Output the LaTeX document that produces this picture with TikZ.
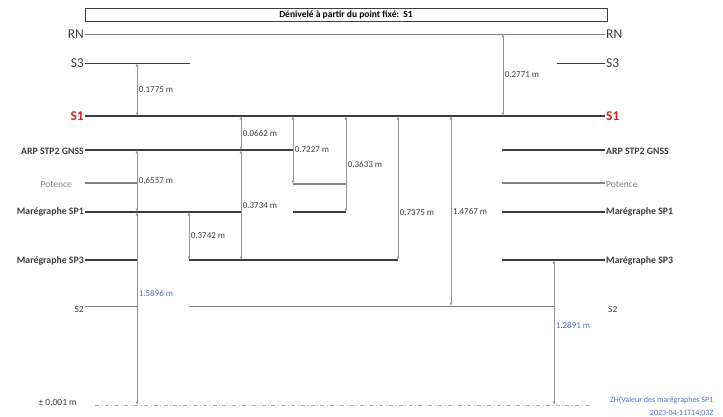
\documentclass[tikz,border=0pt]{standalone}
\usepackage{fontspec}
\setmainfont{Carlito}
\usetikzlibrary{arrows.meta}
\definecolor{Ldark}{RGB}{60,60,60}
\definecolor{Lgray}{RGB}{130,130,130}
\definecolor{Dgray}{RGB}{150,150,150}
\definecolor{Zblue}{RGB}{80,115,190}
\definecolor{Sred}{RGB}{220,35,35}

\begin{document}
\begin{tikzpicture}[x=1pt,y=-1pt,
  lvl/.style={draw=Ldark,line width=1.6pt},
  lvlthin/.style={draw=Ldark,line width=0.8pt},
  lvlgray/.style={draw=Lgray,line width=1.4pt},
  dimarrow/.style={draw=Dgray,line width=0.7pt,{Latex[length=3.5pt,width=3pt]}-{Latex[length=3.5pt,width=3pt]}},
  dimlabel/.style={right,inner sep=1.5pt,text=Ldark,font=\fontsize{9}{10}\selectfont},
  bluelabel/.style={dimlabel,text=Zblue},
  lname/.style={left,inner sep=1pt,text=Ldark,font=\fontsize{9.5}{11}\selectfont},
  rname/.style={right,inner sep=1pt,text=Ldark,font=\fontsize{9.5}{11}\selectfont},
  boldname/.style={font=\bfseries\fontsize{9.8}{11}\selectfont},
  bigname/.style={font=\fontsize{13.5}{15}\selectfont}]
\useasboundingbox (0,0) rectangle (723,416);

% levels
\coordinate (RN) at (85,34);
\coordinate (S3) at (85,63);
\coordinate (S1) at (85,116);
\coordinate (ARP) at (85,150);
\coordinate (POT) at (85,183);
\coordinate (POTm) at (85,184);
\coordinate (SP1) at (85,212);
\coordinate (SP3) at (85,260);
\coordinate (S2) at (85,306);
\coordinate (ZH) at (85,405);
% columns
\coordinate (cA) at (137,0);
\coordinate (cB) at (189,0);
\coordinate (cC) at (241,0);
\coordinate (cD) at (293,0);
\coordinate (cE) at (346,0);
\coordinate (cF) at (398,0);
\coordinate (cG) at (451,0);
\coordinate (cH) at (503,0);
\coordinate (cI) at (554,0);
\coordinate (rgt) at (605,0);

% title
\node[draw=Ldark,line width=0.6pt,minimum width=522pt,minimum height=13pt,inner sep=0pt,
  font=\bfseries\fontsize{9.5}{10}\selectfont] (title) at (346,14.5) {Dénivelé à partir du point fixé:\ \ S1};

% level lines
\draw[lvlthin,draw=Lgray] (RN) -- (RN -| rgt);
\draw[lvlthin] (S3) -- (S3 -| 190,0);
\draw[lvlthin] (S3 -| 557,0) -- (S3 -| rgt);
\draw[lvl] (S1) -- (S1 -| rgt);
\draw[lvl] (ARP) -- (ARP -| cD);
\draw[lvl] (ARP -| 502,0) -- (ARP -| rgt);
\draw[lvlgray] (POT) -- (POT -| cA);
\draw[lvlgray] (POTm -| cD) -- (POTm -| cE);
\draw[lvlgray] (POT -| 502,0) -- (POT -| rgt);
\draw[lvl] (SP1) -- (SP1 -| cC);
\draw[lvl] (SP1 -| cD) -- (SP1 -| cE);
\draw[lvl] (SP1 -| 502,0) -- (SP1 -| rgt);
\draw[lvl] (SP3) -- (SP3 -| cA);
\draw[lvl] (SP3 -| cB) -- (SP3 -| cF);
\draw[lvl] (SP3 -| 502,0) -- (SP3 -| rgt);
\draw[lvlgray,line width=1pt] (S2) -- (S2 -| cA);
\draw[lvlgray,line width=1pt] (S2 -| cB) -- (S2 -| cI);
\draw[draw=Zblue!55,line width=0.6pt,dash pattern=on 4pt off 2.5pt on 0.8pt off 2.5pt] (ZH -| 95,0) -- (ZH -| 590,0);

% names on the left
\node[lname,bigname] (nRNl) at (RN) {RN};
\node[lname,bigname] (nS3l) at (S3) {S3};
\node[lname,text=Sred,font=\bfseries\fontsize{13.5}{15}\selectfont] (nS1l) at (S1) {S1};
\node[lname,boldname] (nARPl) at ([yshift=-1]ARP) {ARP STP2 GNSS};
\node[lname,xshift=-12pt,text=Lgray] (nPOTl) at ([yshift=-1]POT) {Potence};
\node[lname,boldname] (nSP1l) at (SP1) {Marégraphe SP1};
\node[lname,boldname] (nSP3l) at ([yshift=-1]SP3) {Marégraphe SP3};
\node[lname] (nS2l) at ([yshift=-3]S2) {S2};
\node[lname,xshift=-7pt] (nZHl) at ([yshift=2]ZH) {± 0,001 m};

% names on the right
\node[rname,bigname] (nRNr) at (RN -| rgt) {RN};
\node[rname,bigname] (nS3r) at (S3 -| rgt) {S3};
\node[rname,text=Sred,font=\bfseries\fontsize{13.5}{15}\selectfont] (nS1r) at (S1 -| rgt) {S1};
\node[rname,boldname] (nARPr) at ([yshift=-1]ARP -| rgt) {ARP STP2 GNSS};
\node[rname,text=Lgray] (nPOTr) at ([yshift=-1]POT -| rgt) {Potence};
\node[rname,boldname] (nSP1r) at (SP1 -| rgt) {Marégraphe SP1};
\node[rname,boldname] (nSP3r) at ([yshift=-1]SP3 -| rgt) {Marégraphe SP3};
\node[rname,xshift=2pt] (nS2r) at ([yshift=-3]S2 -| rgt) {S2};
\node[right,inner sep=0pt,align=right,text=Zblue,font=\fontsize{8}{13}\selectfont] (nZHr) at (610,406) {ZH(Valeur des marégraphes SP1\\2023-04-11T14:03Z};

% distances
\draw[dimarrow] (cA |- S3) -- node[dimlabel] (d1) {0.1775 m} (cA |- S1);
\draw[dimarrow] (cH |- RN) -- node[dimlabel] (d2) {0.2771 m} (cH |- S1);
\draw[dimarrow] (cC |- S1) -- node[dimlabel] (d3) {0.0662 m} (cC |- ARP);
\draw[dimarrow] (cD |- S1) -- node[dimlabel] (d4) {0.7227 m} (cD |- POTm);
\draw[dimarrow] (cE |- S1) -- node[dimlabel] (d5) {0.3633 m} (cE |- SP1);
\draw[dimarrow] (cF |- S1) -- node[dimlabel,pos=0.67] (d6) {0.7375 m} (cF |- SP3);
\draw[dimarrow] (cG |- S1) -- node[dimlabel] (d7) {1.4767 m} (cG |- S2);
\draw[dimarrow] (cA |- ARP) -- node[dimlabel] (d8) {0,6557 m} (cA |- SP1);
\draw[dimarrow] (cC |- ARP) -- node[dimlabel,pos=0.51] (d9) {0.3734 m} (cC |- SP3);
\draw[dimarrow] (cB |- SP1) -- node[dimlabel] (d10) {0.3742 m} (cB |- SP3);
\draw[dimarrow] (cA |- SP1) -- node[bluelabel,pos=0.42] (d11) {1.5896 m} (cA |- ZH);
\draw[dimarrow] (cI |- SP3) -- node[bluelabel,pos=0.45] (d12) {1.2891 m} (cI |- ZH);
\end{tikzpicture}
\end{document}
